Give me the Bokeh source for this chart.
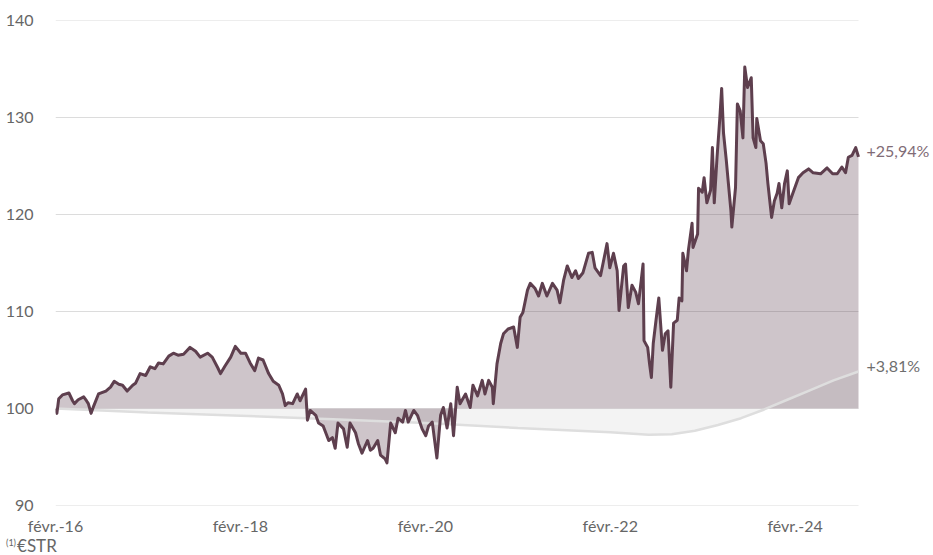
from bokeh.plotting import figure
from bokeh.models import ColumnDataSource, FixedTicker, Label, Div
from bokeh.layouts import column
from bokeh.embed import file_html
from bokeh.resources import INLINE

# Decimal-year dates (febr. 2016 = 2016.085) and index values (base 100)
fund_dates = [
    2016.085, 2016.10, 2016.12, 2016.16, 2016.23, 2016.27, 2016.29, 2016.33, 2016.39, 2016.42,
    2016.44, 2016.47, 2016.50, 2016.55, 2016.63, 2016.68, 2016.72, 2016.77, 2016.81, 2016.86,
    2016.92, 2016.95, 2017.00, 2017.06, 2017.11, 2017.16, 2017.20, 2017.25, 2017.31, 2017.36,
    2017.41, 2017.47, 2017.54, 2017.60, 2017.65, 2017.73, 2017.78, 2017.84, 2017.87, 2017.92,
    2017.98, 2018.03, 2018.09, 2018.14, 2018.19, 2018.24, 2018.28, 2018.33, 2018.39, 2018.44,
    2018.50, 2018.54, 2018.57, 2018.60, 2018.65, 2018.70, 2018.73, 2018.79, 2018.81, 2018.84,
    2018.90, 2018.93, 2018.98, 2019.04, 2019.08, 2019.11, 2019.14, 2019.20, 2019.24, 2019.27,
    2019.33, 2019.36, 2019.40, 2019.46, 2019.49, 2019.52, 2019.57, 2019.60, 2019.65, 2019.67,
    2019.71, 2019.76, 2019.79, 2019.84, 2019.87, 2019.90, 2019.96, 2020.00, 2020.05, 2020.09,
    2020.12, 2020.16, 2020.21, 2020.25, 2020.28, 2020.32, 2020.36, 2020.39, 2020.43, 2020.46,
    2020.52, 2020.57, 2020.60, 2020.65, 2020.70, 2020.73, 2020.77, 2020.81, 2020.82, 2020.86,
    2020.90, 2020.93, 2020.98, 2021.04, 2021.08, 2021.11, 2021.14, 2021.19, 2021.22, 2021.27,
    2021.31, 2021.35, 2021.40, 2021.46, 2021.51, 2021.54, 2021.58, 2021.62, 2021.67, 2021.71,
    2021.74, 2021.79, 2021.85, 2021.89, 2021.92, 2021.98, 2022.01, 2022.05, 2022.08, 2022.12,
    2022.16, 2022.18, 2022.23, 2022.25, 2022.28, 2022.32, 2022.36, 2022.39, 2022.42, 2022.44,
    2022.45, 2022.49, 2022.51, 2022.53, 2022.55, 2022.58, 2022.61, 2022.65, 2022.68, 2022.71,
    2022.74, 2022.77, 2022.81, 2022.83, 2022.86, 2022.87, 2022.91, 2022.93, 2022.97, 2022.98,
    2023.03, 2023.04, 2023.08, 2023.10, 2023.13, 2023.17, 2023.19, 2023.21, 2023.24, 2023.27,
    2023.29, 2023.31, 2023.34, 2023.36, 2023.39, 2023.40, 2023.44, 2023.46, 2023.49, 2023.52,
    2023.54, 2023.57, 2023.61, 2023.63, 2023.66, 2023.67, 2023.71, 2023.74, 2023.77, 2023.79,
    2023.83, 2023.86, 2023.89, 2023.91, 2023.94, 2023.97, 2024.00, 2024.02, 2024.06, 2024.12,
    2024.17, 2024.23, 2024.28, 2024.36, 2024.43, 2024.49, 2024.54, 2024.59, 2024.63, 2024.66,
    2024.70, 2024.74, 2024.77,
]
fund_values = [
    100.0, 99.5, 101.0, 101.4, 101.6, 100.8, 100.5, 100.9, 101.2, 100.8,
    100.5, 99.5, 100.3, 101.5, 101.8, 102.2, 102.8, 102.5, 102.4, 101.8,
    102.4, 102.6, 103.6, 103.4, 104.3, 104.1, 104.7, 104.6, 105.4, 105.7,
    105.5, 105.6, 106.3, 105.9, 105.3, 105.7, 105.3, 104.2, 103.6, 104.4,
    105.3, 106.4, 105.7, 105.7, 104.7, 103.9, 105.2, 105.0, 103.6, 102.8,
    102.4, 101.5, 100.3, 100.6, 100.5, 101.5, 100.8, 102.0, 98.8, 99.8,
    99.3, 98.5, 98.2, 96.7, 97.0, 95.9, 98.5, 97.9, 96.0, 98.5,
    97.5, 96.4, 95.4, 96.7, 95.7, 95.9, 96.7, 95.2, 94.8, 94.4,
    98.5, 97.5, 99.0, 98.6, 99.8, 98.6, 99.8, 99.3, 97.9, 97.2,
    98.2, 98.6, 94.9, 99.3, 100.1, 98.0, 100.5, 97.2, 102.2, 100.5,
    101.5, 100.1, 102.4, 101.3, 102.9, 101.5, 102.9, 102.2, 100.5, 104.6,
    106.7, 107.7, 108.2, 108.4, 106.3, 109.4, 109.9, 112.2, 112.9, 112.4,
    111.6, 112.9, 111.6, 112.9, 112.2, 110.9, 113.2, 114.7, 113.5, 114.2,
    113.4, 114.0, 116.0, 116.1, 114.5, 113.7, 115.1, 117.0, 114.5, 116.0,
    114.2, 110.1, 114.7, 114.9, 110.4, 112.7, 112.0, 110.8, 113.2, 114.9,
    107.0, 106.3, 104.6, 103.2, 106.7, 109.1, 111.4, 106.0, 107.7, 108.0,
    102.2, 108.8, 109.1, 111.4, 111.1, 116.0, 114.2, 116.3, 119.1, 116.6,
    118.0, 122.7, 122.3, 123.8, 121.2, 122.5, 126.9, 121.2, 125.9, 129.9,
    133.0, 128.4, 125.6, 123.5, 120.4, 118.7, 122.8, 131.4, 130.7, 127.9,
    135.2, 133.1, 134.1, 127.9, 126.9, 129.9, 127.6, 127.3, 125.3, 123.2,
    119.7, 121.4, 122.2, 123.2, 120.7, 123.2, 124.5, 121.1, 122.2, 123.8,
    124.3, 124.7, 124.3, 124.2, 124.8, 124.2, 124.2, 124.9, 124.3, 125.9,
    126.1, 126.9, 125.94,
]

estr_dates = [2016.085, 2017.085, 2018.085, 2019.085, 2020.085, 2021.085, 2022.085,
              2022.50, 2022.75, 2023.00, 2023.25, 2023.50, 2023.75, 2024.00, 2024.25,
              2024.50, 2024.77]
estr_values = [100.0, 99.6, 99.25, 98.9, 98.5, 98.0, 97.55,
               97.3, 97.35, 97.7, 98.3, 99.0, 99.9, 100.9, 101.9,
               102.9, 103.81]

x_ticks = [2016.085, 2018.085, 2020.085, 2022.085, 2024.085]
x_tick_labels = ["févr.-16", "févr.-18", "févr.-20", "févr.-22", "févr.-24"]
y_ticks = [90, 100, 110, 120, 130, 140]
fund_label = "+25,94%"
estr_label = "+3,81%"
footnote_mark = "(1)"
footnote_text = "€STR"

FONT = "Lato"
LINE = "#5e3f4e"
W, H = 933, 537
LEFT, TOP, BOTTOM = 55, 20, 32
DATA_PX = 803  # pixel width covered by the data; the rest keeps room for end labels

x0, x1 = fund_dates[0], fund_dates[-1]
x_end = x0 + (x1 - x0) * (W - LEFT) / DATA_PX

fund_src = ColumnDataSource(dict(x=fund_dates, y=fund_values, base=[100] * len(fund_dates)))
estr_src = ColumnDataSource(dict(x=estr_dates, y=estr_values, base=[100] * len(estr_dates)))
grid_src = ColumnDataSource(dict(x0=[x0] * len(y_ticks), x1=[x1] * len(y_ticks), y=y_ticks))

p = figure(width=W, height=H, output_backend="svg", toolbar_location=None,
           x_range=(x0, x_end), y_range=(90, 140),
           min_border_left=LEFT, min_border_right=0, min_border_top=TOP,
           min_border_bottom=BOTTOM)
p.outline_line_color = None
p.background_fill_color = "white"
p.border_fill_color = "white"
p.xgrid.grid_line_color = None
p.ygrid.grid_line_color = None

p.segment(x0="x0", y0="y", x1="x1", y1="y", source=grid_src, line_color="#dcdcdc", line_width=1)
p.varea(x="x", y1="base", y2="y", source=estr_src, fill_color="#f3f3f3")
p.varea(x="x", y1="base", y2="y", source=fund_src, fill_color=LINE, fill_alpha=0.3)
p.line(x="x", y="y", source=estr_src, line_color="#dedede", line_width=2.5)
p.line(x="x", y="y", source=fund_src, line_color=LINE, line_width=3, line_join="round")

p.yaxis.ticker = FixedTicker(ticks=y_ticks)
p.xaxis.ticker = FixedTicker(ticks=x_ticks)
p.xaxis.major_label_overrides = {t: l for t, l in zip(x_ticks, x_tick_labels)}

for ax in (p.xaxis[0], p.yaxis[0]):
    ax.axis_line_color = None
    ax.major_tick_line_color = None
    ax.minor_tick_line_color = None
    ax.major_label_text_font = FONT
    ax.major_label_text_font_size = "16px"
    ax.major_label_text_color = "#666666"
p.yaxis.major_label_standoff = 16
p.xaxis.major_label_standoff = 4

p.add_layout(Label(x=fund_dates[-1], y=fund_values[-1], x_offset=8, y_offset=6, text=fund_label,
                   text_font=FONT, text_font_size="16px", text_color="#806b76",
                   text_baseline="middle"))
p.add_layout(Label(x=estr_dates[-1], y=estr_values[-1], x_offset=8, y_offset=6, text=estr_label,
                   text_font=FONT, text_font_size="16px", text_color="#6e6e6e",
                   text_baseline="middle"))

foot = Div(text=(f'<div style="font-family:{FONT};font-size:17px;color:#666666;'
                 f'line-height:18px;padding-left:6px;white-space:nowrap">'
                 f'<span style="font-size:9px;position:relative;top:-6px;margin-right:1px">'
                 f'{footnote_mark}</span>{footnote_text}</div>'),
           width=200, height=555 - H, margin=(0, 0, 0, 0))

layout = column(p, foot, spacing=0)
open("out.html", "w").write(file_html(layout, INLINE))
